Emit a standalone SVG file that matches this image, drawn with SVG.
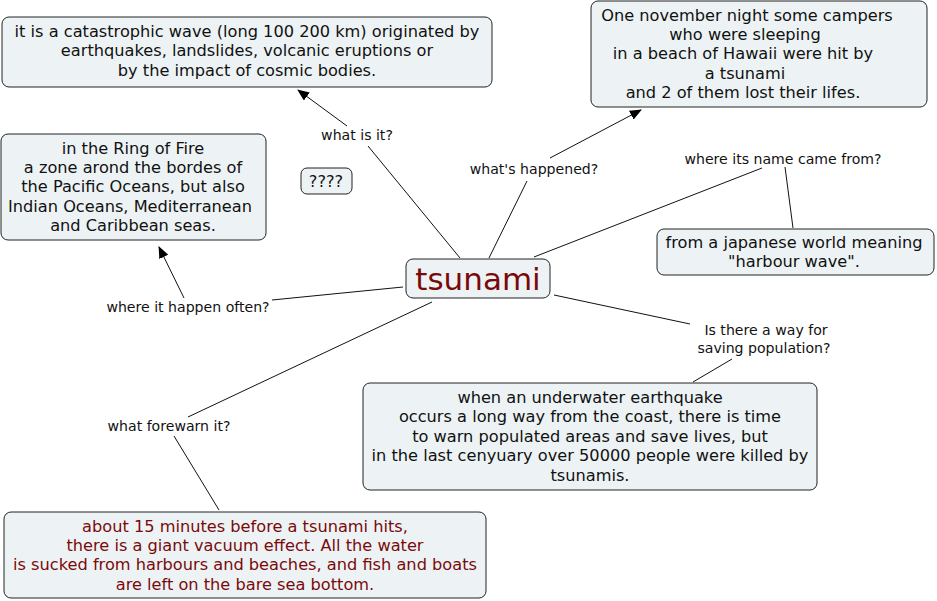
<svg xmlns="http://www.w3.org/2000/svg" width="937" height="601" viewBox="0 0 937 601">
<defs>
<marker id="arr" viewBox="0 0 12 10" refX="11" refY="5" markerWidth="12" markerHeight="10" markerUnits="userSpaceOnUse" orient="auto">
<path d="M0,0 L12,5 L0,10 Z" fill="#000"/>
</marker>
</defs>
<style>
.box{fill:#edf3f5;stroke:#222;stroke-width:1}
.t{font-family:"DejaVu Sans",Verdana,sans-serif;font-size:16.2px;fill:#111;text-anchor:middle}
.r{fill:#7a0a0a}
.lb{font-family:"DejaVu Sans",Verdana,sans-serif;font-size:14.1px;fill:#111;text-anchor:middle}
.c{stroke:#111;stroke-width:1;fill:none}
</style>
<rect width="937" height="601" fill="#fff"/>
<g id="connectors">
<line class="c" x1="460" y1="258" x2="368" y2="146"/>
<line class="c" x1="347" y1="126" x2="298" y2="90" marker-end="url(#arr)"/>
<line class="c" x1="489" y1="258" x2="527" y2="181"/>
<line class="c" x1="550" y1="158" x2="641" y2="110" marker-end="url(#arr)"/>
<line class="c" x1="534" y1="257" x2="762" y2="168"/>
<line class="c" x1="785" y1="167" x2="793" y2="228"/>
<line class="c" x1="403" y1="287" x2="272" y2="300"/>
<line class="c" x1="184" y1="298" x2="159" y2="247" marker-end="url(#arr)"/>
<line class="c" x1="554" y1="295" x2="690" y2="324"/>
<line class="c" x1="732" y1="359" x2="693" y2="382"/>
<line class="c" x1="432" y1="302" x2="188" y2="417"/>
<line class="c" x1="174" y1="436" x2="219" y2="510"/>
</g>
<g id="labels">
<text class="lb" x="357" y="140">what is it?</text>
<text class="lb" x="534" y="174">what's happened?</text>
<text class="lb" x="783" y="164">where its name came from?</text>
<text class="lb" x="188" y="312">where it happen often?</text>
<text class="lb" x="766" y="335">Is there a way for</text>
<text class="lb" x="764" y="353">saving population?</text>
<text class="lb" x="169" y="431">what forewarn it?</text>
</g>
<g id="node-what">
<rect class="box" x="2" y="17" width="490" height="70" rx="7"/>
<text class="t" x="247" y="37">it is a catastrophic wave (long 100 200 km) originated by</text>
<text class="t" x="247" y="56">earthquakes, landslides, volcanic eruptions or</text>
<text class="t" x="247" y="76">by the impact of cosmic bodies.</text>
</g>
<g id="node-happened">
<rect class="box" x="591" y="1" width="336" height="106" rx="7"/>
<text class="t" x="747" y="21">One november night some campers</text>
<text class="t" x="745" y="40">who were sleeping</text>
<text class="t" x="743" y="59">in a beach of Hawaii were hit by</text>
<text class="t" x="745" y="79">a tsunami</text>
<text class="t" x="743" y="98">and 2 of them lost their lifes.</text>
</g>
<g id="node-ring">
<rect class="box" x="1" y="134" width="265" height="106" rx="7"/>
<text class="t" x="133" y="154">in the Ring of Fire</text>
<text class="t" x="133" y="173">a zone arond the bordes of</text>
<text class="t" x="133" y="192">the Pacific Oceans, but also</text>
<text class="t" x="130" y="212">Indian Oceans, Mediterranean</text>
<text class="t" x="133" y="231">and Caribbean seas.</text>
</g>
<g id="node-q">
<rect class="box" x="301" y="168" width="51" height="26" rx="6"/>
<text class="t" x="326" y="187">????</text>
</g>
<g id="node-tsunami">
<rect class="box" x="406" y="259" width="144" height="39" rx="7"/>
<text class="t r" x="478" y="290" style="font-size:31px">tsunami</text>
</g>
<g id="node-name">
<rect class="box" x="657" y="229" width="277" height="46" rx="7"/>
<text class="t" x="794" y="248">from a japanese world meaning</text>
<text class="t" x="794" y="267">"harbour wave".</text>
</g>
<g id="node-saving">
<rect class="box" x="363" y="383" width="454" height="107" rx="7"/>
<text class="t" x="590" y="403">when an underwater earthquake</text>
<text class="t" x="590" y="422">occurs a long way from the coast, there is time</text>
<text class="t" x="590" y="442">to warn populated areas and save lives, but</text>
<text class="t" x="590" y="461">in the last cenyuary over 50000 people were killed by</text>
<text class="t" x="590" y="481">tsunamis.</text>
</g>
<g id="node-forewarn">
<rect class="box" x="4" y="512" width="482" height="86" rx="7"/>
<text class="t r" x="245" y="532">about 15 minutes before a tsunami hits,</text>
<text class="t r" x="245" y="551">there is a giant vacuum effect. All the water</text>
<text class="t r" x="245" y="570">is sucked from harbours and beaches, and fish and boats</text>
<text class="t r" x="245" y="590">are left on the bare sea bottom.</text>
</g>
</svg>
